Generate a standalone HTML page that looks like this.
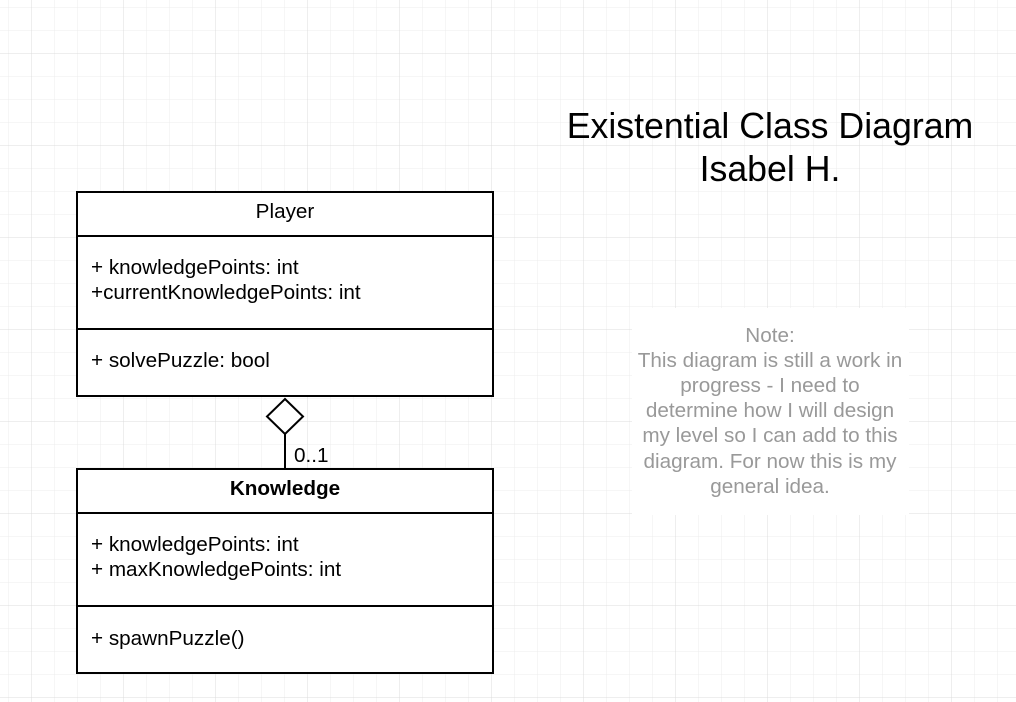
<!DOCTYPE html>
<html><head><meta charset="utf-8"><style>
html,body{margin:0;padding:0;background:#fff}
svg{display:block}
text{font-family:"Liberation Sans",sans-serif}
</style></head><body>
<svg width="1016" height="702" xmlns="http://www.w3.org/2000/svg">
<defs>
<pattern id="minor" x="8" y="7" width="23" height="23" patternUnits="userSpaceOnUse">
<path d="M0 0H23M0 0V23" stroke="#ececec" stroke-width="1" fill="none"/>
</pattern>
<pattern id="major" x="31" y="53" width="92" height="92" patternUnits="userSpaceOnUse">
<path d="M0 0H92M0 0V92" stroke="#dcdcdc" stroke-width="1" fill="none"/>
</pattern>
</defs>
<rect width="1016" height="702" fill="#fff"/>
<rect width="1016" height="702" fill="url(#minor)"/>
<rect width="1016" height="702" fill="url(#major)"/>

<text x="770" y="138" font-size="35.7" text-anchor="middle" fill="#000">Existential Class Diagram</text>
<text x="770" y="181" font-size="35.7" text-anchor="middle" fill="#000">Isabel H.</text>

<g stroke="#000" stroke-width="2" fill="#fff">
<rect x="77" y="192" width="416" height="204"/>
<line x1="77" y1="236" x2="493" y2="236"/>
<line x1="77" y1="329" x2="493" y2="329"/>
<rect x="77" y="469" width="416" height="204"/>
<line x1="77" y1="513" x2="493" y2="513"/>
<line x1="77" y1="606" x2="493" y2="606"/>
<line x1="285" y1="434" x2="285" y2="469"/>
<polygon points="285,399 303,416.5 285,434 267,416.5"/>
</g>
<g font-size="20.7" fill="#000">
<text x="285" y="218" text-anchor="middle">Player</text>
<text x="91" y="274">+ knowledgePoints: int</text>
<text x="91" y="299">+currentKnowledgePoints: int</text>
<text x="91" y="367">+ solvePuzzle: bool</text>
<text x="285" y="495" text-anchor="middle" font-weight="bold">Knowledge</text>
<text x="91" y="551">+ knowledgePoints: int</text>
<text x="91" y="576">+ maxKnowledgePoints: int</text>
<text x="91" y="645">+ spawnPuzzle()</text>
<text x="294" y="462">0..1</text>
</g>

<rect x="632" y="308" width="277" height="207" fill="#fff"/>
<g font-size="20.7" fill="#999" text-anchor="middle">
<text x="770" y="342">Note:</text>
<text x="770" y="367">This diagram is still a work in</text>
<text x="770" y="392">progress - I need to</text>
<text x="770" y="417">determine how I will design</text>
<text x="770" y="442">my level so I can add to this</text>
<text x="770" y="468">diagram. For now this is my</text>
<text x="770" y="493">general idea.</text>
</g>
</svg>
</body></html>
